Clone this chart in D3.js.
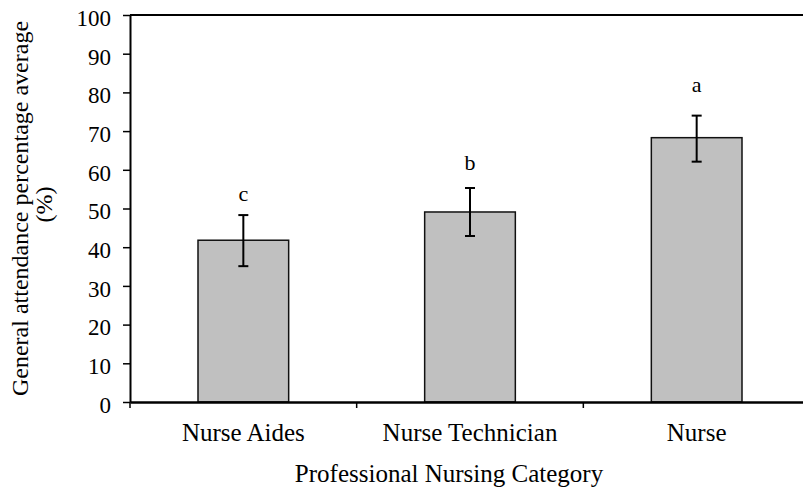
<!DOCTYPE html>
<html>
<head>
<meta charset="utf-8">
<script src="https://cdn.jsdelivr.net/npm/d3@7"></script>
<style>
  body { margin: 0; background: #fff; }
  text { font-family: "Liberation Serif", "Times New Roman", serif; fill: #000; }
  .axis path, .axis line { stroke: #000; }
</style>
</head>
<body>
<div id="graph"></div>
<script>
var categories = ["Nurse Aides", "Nurse Technician", "Nurse"];
var means = [41.8, 49.1, 68.3];
var errLow = [35.1, 42.9, 62.1];
var errHigh = [48.3, 55.3, 74.0];
var letters = ["c", "b", "a"];
var letterPos = [52, 60, 80];
var yTicks = [0, 10, 20, 30, 40, 50, 60, 70, 80, 90, 100];

var margin = {top: 15, right: 0, bottom: 88, left: 130},
    width = 680,
    height = 490 - margin.top - margin.bottom;

var x = d3.scaleBand()
    .domain(categories)
    .range([0, width])
    .padding(0);
var y = d3.scaleLinear()
    .domain([0, 100])
    .range([height, 0]);

var barW = x.bandwidth() * 0.4;

var svg = d3.select("#graph").append("svg")
    .attr("width", 803)
    .attr("height", 490)
  .append("g")
    .attr("transform", "translate(" + margin.left + "," + margin.top + ")");

// bars
svg.selectAll(".bar")
    .data(categories)
  .enter().append("rect")
    .attr("class", "bar")
    .attr("x", function(d) { return x(d) + (x.bandwidth() - barW) / 2; })
    .attr("y", function(d, i) { return y(means[i]); })
    .attr("width", barW)
    .attr("height", function(d, i) { return y(0) - y(means[i]); })
    .style("fill", "#c0c0c0")
    .style("stroke", "#111")
    .style("stroke-width", 1.5);

// error bars
var err = svg.selectAll(".err")
    .data(categories)
  .enter().append("g")
    .attr("class", "err")
    .attr("transform", function(d) { return "translate(" + (x(d) + x.bandwidth() / 2) + ",0)"; });
err.append("line")
    .attr("y1", function(d, i) { return y(errLow[i]); })
    .attr("y2", function(d, i) { return y(errHigh[i]); })
    .style("stroke", "#000").style("stroke-width", 2);
err.append("line")
    .attr("x1", -5).attr("x2", 5)
    .attr("y1", function(d, i) { return y(errLow[i]); })
    .attr("y2", function(d, i) { return y(errLow[i]); })
    .style("stroke", "#000").style("stroke-width", 2);
err.append("line")
    .attr("x1", -5).attr("x2", 5)
    .attr("y1", function(d, i) { return y(errHigh[i]); })
    .attr("y2", function(d, i) { return y(errHigh[i]); })
    .style("stroke", "#000").style("stroke-width", 2);
err.append("text")
    .attr("y", function(d, i) { return y(letterPos[i]); })
    .style("text-anchor", "middle")
    .style("font-size", "22px")
    .text(function(d, i) { return letters[i]; });

// y axis
var yAxis = d3.axisLeft(y).tickValues(yTicks).tickSize(7).tickPadding(12).tickSizeOuter(0);
svg.append("g")
    .attr("class", "y axis")
    .call(yAxis)
    .call(function(g) {
      g.select(".domain").style("stroke-width", 2);
      g.selectAll(".tick line").style("stroke-width", 1.5);
      g.selectAll(".tick text")
        .attr("dy", "0.45em")
        .style("font-size", "23px")
        .style("font-family", "Liberation Serif");
    });

// x axis, ticks between categories
var xAxis = d3.axisBottom(x).tickSize(0).tickSizeOuter(0);
svg.append("g")
    .attr("class", "x axis")
    .attr("transform", "translate(0," + height + ")")
    .call(xAxis)
    .call(function(g) {
      g.select(".domain").style("stroke-width", 2.5);
      g.selectAll(".tick text")
        .attr("y", 39).attr("dy", 0)
        .style("font-size", "25px")
        .style("font-family", "Liberation Serif");
    });
svg.append("g")
    .selectAll("line")
    .data(categories)
  .enter().append("line")
    .attr("x1", function(d) { return x(d); })
    .attr("x2", function(d) { return x(d); })
    .attr("y1", height)
    .attr("y2", height + 6)
    .style("stroke", "#000")
    .style("stroke-width", 1.5);

// top border
svg.append("line")
    .attr("x1", 0).attr("x2", width)
    .attr("y1", y(100)).attr("y2", y(100))
    .style("stroke", "#000").style("stroke-width", 2);

// axis titles
svg.append("text")
    .attr("x", 319)
    .attr("y", height + 80)
    .style("text-anchor", "middle")
    .style("font-size", "25px")
    .text("Professional Nursing Category");

var yt = svg.append("text")
    .attr("transform", "translate(" + (28 - margin.left) + "," + (height / 2) + ") rotate(-90)")
    .style("text-anchor", "middle")
    .style("font-size", "24px");
yt.append("tspan").attr("x", 0).attr("y", 0).text("General attendance percentage average");
yt.append("tspan").attr("x", 4).attr("y", 24).text("(%)");
</script>
</body>
</html>
